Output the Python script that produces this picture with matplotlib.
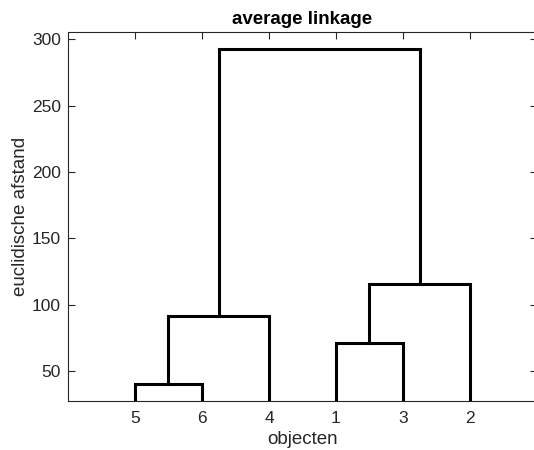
import matplotlib

matplotlib.use("Agg")

import matplotlib.pyplot as plt

plt.rcParams["font.family"] = ["Liberation Sans", "DejaVu Sans"]

# objects 1..6 are cluster ids 0..5; each merge creates id 6, 7, ...
object_names = ["1", "2", "3", "4", "5", "6"]
merge_left = [4, 0, 6, 7, 8]
merge_right = [5, 2, 3, 1, 9]
merge_height = [40.0, 70.9, 91.5, 115.8, 292.5]

y_ticks = [50, 100, 150, 200, 250, 300]

n = len(object_names)
children = {n + i: (a, b) for i, (a, b) in enumerate(zip(merge_left, merge_right))}
heights = {n + i: h for i, h in enumerate(merge_height)}


def leaf_order(node):
    if node < n:
        return [node]
    a, b = children[node]
    return leaf_order(a) + leaf_order(b)


root = n + len(merge_height) - 1
order = leaf_order(root)
xpos = {leaf: i + 1 for i, leaf in enumerate(order)}
ypos = {leaf: 0.0 for leaf in order}

fig = plt.figure(figsize=(5.34, 4.5), dpi=100)
ax = fig.add_axes([0.1273, 0.1089, 0.8783, 0.8193])

for node in range(n, root + 1):
    a, b = children[node]
    h = heights[node]
    xa, xb = xpos[a], xpos[b]
    ax.plot([xa, xa, xb, xb], [ypos[a], h, h, ypos[b]], color="black", linewidth=2.2,
            solid_joinstyle="miter")
    xpos[node] = (xa + xb) / 2
    ypos[node] = h

ax.set_xlim(0, n + 1)
ax.set_ylim(27.4, 305.3)
ax.set_xticks(range(1, n + 1))
ax.set_xticklabels([object_names[leaf] for leaf in order])
ax.set_yticks(y_ticks)
ax.tick_params(direction="in", top=True, right=True, length=5, width=0.8,
               labelsize=12.5, colors="#262626", labelcolor="#262626", pad=5)
ax.tick_params(axis="x", pad=7)
for spine in ax.spines.values():
    spine.set_linewidth(0.8)
    spine.set_color("#262626")

ax.set_xlabel("objecten", fontsize=13.5, color="#262626", labelpad=4)
ax.set_ylabel("euclidische afstand", fontsize=13.5, color="#262626", labelpad=2)
ax.set_title("average linkage", fontsize=13.5, fontweight="bold", pad=6)

fig.savefig("out.png", dpi=100)
